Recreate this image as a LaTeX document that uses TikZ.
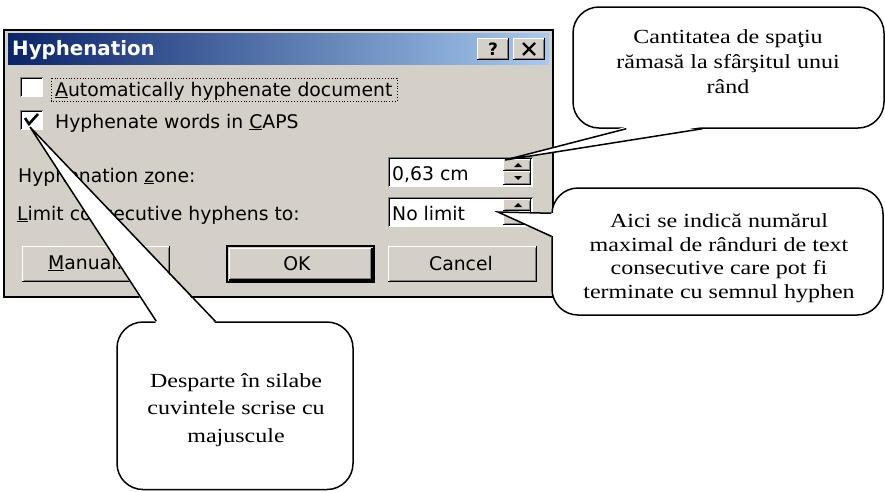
\documentclass[tikz,border=0pt]{standalone}
\usepackage{fontspec}
\setmainfont{Liberation Serif}
\newfontfamily\uifont{DejaVu Sans}
\newfontfamily\notefont[FakeStretch=1.2]{Liberation Serif}
\usepackage{tikz}
\usetikzlibrary{calc}

\definecolor{winface}{HTML}{D4D0C8}
\definecolor{winshadow}{HTML}{808080}
\definecolor{titledark}{HTML}{0A246A}
\definecolor{titlelight}{HTML}{A6CAF0}

\tikzset{
  ui_text/.style={font=\uifont\fontsize{18.8}{22}\selectfont, text=black, inner sep=0pt},
  title_text/.style={font=\uifont\bfseries\fontsize{19.8}{22}\selectfont, text=white, inner sep=0pt},
  glyph_text/.style={font=\uifont\bfseries\fontsize{17}{20}\selectfont, text=black, inner sep=0pt},
  check_mark/.style={line width=2.6pt, line join=miter},
  spin_arrow/.style={fill=black},
  bubble/.style={draw=black, fill=white, line width=1.5pt, rounded corners=26pt, inner sep=0pt},
  note_text/.style={align=center, inner sep=0pt, font=\notefont\fontsize{20}{#1}\selectfont},
  note_text/.default=24.5,
  pointer_line/.style={black, line width=1.5pt, line join=miter}
}

% raised 3d panel: top left (#1,#2), bottom right (#3,#4)
\newcommand{\raisedpanel}[4]{%
  \fill[winface] (#1,#2) rectangle (#3,#4);
  \draw[white, line width=1.2pt] (#1+0.6,#4-1) -- (#1+0.6,#2+0.6) -- (#3-1,#2+0.6);
  \draw[winshadow, line width=1.2pt] (#1+1.6,#4-1.8) -- (#3-1.8,#4-1.8) -- (#3-1.8,#2+1.6);
  \draw[black, line width=1.2pt] (#1,#4-0.6) -- (#3-0.6,#4-0.6) -- (#3-0.6,#2);
}
% sunken white field
\newcommand{\sunkenfield}[4]{%
  \fill[white] (#1,#2) rectangle (#3,#4);
  \draw[winshadow, line width=1.2pt] (#1+0.6,#4) -- (#1+0.6,#2+0.6) -- (#3,#2+0.6);
  \draw[black, line width=1.2pt] (#1+1.8,#4-1.2) -- (#1+1.8,#2+1.8) -- (#3-1.2,#2+1.8);
  \draw[white, line width=1.2pt] (#1+0.6,#4-0.6) -- (#3-0.6,#4-0.6) -- (#3-0.6,#2+0.6);
}

\begin{document}
\begin{tikzpicture}[x=1pt, y=-1pt]
  \useasboundingbox (0,0) rectangle (885,491);

  % Window and title bar
  \filldraw[fill=winface, draw=black, line width=2pt] (4,30) rectangle (553,297);
  \shade[left color=titledark, right color=titlelight] (8,33) rectangle (549,64);
  \node[title_text, anchor=base west] (title) at (12,55) {Hyphenation};

  \raisedpanel{477}{38}{509}{60}
  \raisedpanel{513}{38}{545}{60}
  \node[glyph_text] (helpGlyph) at (493,49) {?};
  \draw[line width=2.4pt] (523,43) -- (535,55) (535,43) -- (523,55);

  % Check boxes
  \sunkenfield{20}{77}{43}{97}
  \sunkenfield{20}{110}{43}{130}
  \draw[check_mark] (25,118) -- (29,124) -- (38,114);
  \node[ui_text, anchor=base west] (autoLabel) at (55,96) {\underline{A}utomatically hyphenate document};
  \draw[dotted, line width=0.8pt] (51,78) rectangle (397,101);
  \node[ui_text, anchor=base west] (capsLabel) at (55,128) {Hyphenate words in \underline{C}APS};

  % Zone and limit fields
  \node[ui_text, anchor=base west] (zoneLabel) at (18,182) {Hyphenation \underline{z}one:};
  \node[ui_text, anchor=base west] (limitLabel) at (17,220) {\underline{L}imit consecutive hyphens to:};
  \foreach \y/\val/\name in {157/{0,63 cm}/zoneValue, 197/{No limit}/limitValue} {
    \sunkenfield{388}{\y}{533}{\y+30}
    \node[ui_text, anchor=base west] (\name) at (392,\y+23) {\val};
    \raisedpanel{503}{\y+2}{531}{\y+14}
    \raisedpanel{503}{\y+14}{531}{\y+28}
    \fill[spin_arrow] (514,\y+10) -- (522,\y+10) -- (518,\y+6) -- cycle;
    \fill[spin_arrow] (514,\y+19) -- (522,\y+19) -- (518,\y+23) -- cycle;
  }

  % Buttons
  \raisedpanel{22}{246}{170}{282}
  \node[ui_text, anchor=base west] (manualText) at (48,269) {\underline{M}anual...};
  \draw[black, line width=1.2pt] (227,246) rectangle (374,282);
  \raisedpanel{228.5}{247.5}{372.5}{280.5}
  \node[ui_text, anchor=base] (okText) at (297,270) {OK};
  \raisedpanel{388}{246}{537}{282}
  \node[ui_text, anchor=base] (cancelText) at (461,270) {Cancel};

  % Callouts
  \node[bubble, minimum width=311pt, minimum height=121pt] (zoneNote) at (728.5,67.5) {};
  \node[note_text=25] (zoneText) at (728,62)
    {Cantitatea de spaţiu\\rămasă la sfârşitul unui\\rând};
  \coordinate (zoneTip) at (505,160);
  \coordinate (zoneBaseA) at ($(zoneNote.south west)+(54,0)$);
  \coordinate (zoneBaseB) at ($(zoneNote.south west)+(130,0)$);
  \fill[white] ($(zoneBaseA)+(0,-2)$) -- (zoneTip) -- ($(zoneBaseB)+(0,-2)$) -- cycle;
  \draw[pointer_line] (zoneBaseA) -- (zoneTip) -- (zoneBaseB);

  \node[bubble, minimum width=331pt, minimum height=127pt] (limitNote) at (717.5,251.5) {};
  \node[note_text=23.5] (limitText) at (719,258)
    {Aici se indică numărul\\maximal de rânduri de text\\consecutive care pot fi\\terminate cu semnul hyphen};
  \coordinate (limitTip) at (498,212);
  \coordinate (limitBaseA) at ($(limitNote.north west)+(0,26)$);
  \coordinate (limitBaseB) at ($(limitNote.north west)+(0,49)$);
  \fill[white] ($(limitBaseA)+(2,0)$) -- (limitTip) -- ($(limitBaseB)+(2,0)$) -- cycle;
  \draw[pointer_line] (limitBaseA) -- (limitTip) -- (limitBaseB);

  \node[bubble, minimum width=236pt, minimum height=167.5pt] (capsNote) at (235,405.75) {};
  \node[note_text=27.5] (capsText) at (236,410)
    {Desparte în silabe\\cuvintele scrise cu\\majuscule};
  \coordinate (capsTip) at (30,127);
  \coordinate (capsBaseA) at ($(capsNote.north west)+(40,0)$);
  \coordinate (capsBaseB) at ($(capsNote.north west)+(99,0)$);
  \fill[white] ($(capsBaseA)+(0,2)$) -- (capsTip) -- ($(capsBaseB)+(0,2)$) -- cycle;
  \draw[pointer_line] (capsBaseA) -- (capsTip) -- (capsBaseB);
\end{tikzpicture}
\end{document}
